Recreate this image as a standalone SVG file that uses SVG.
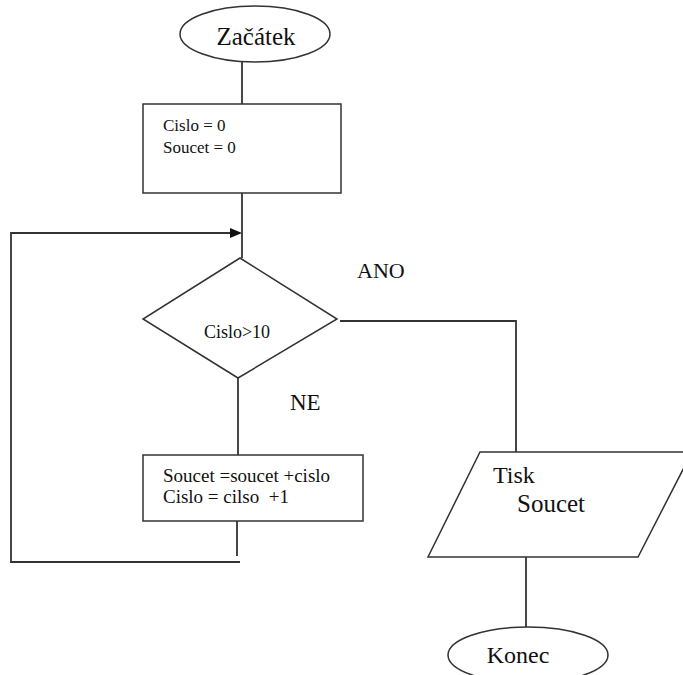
<svg xmlns="http://www.w3.org/2000/svg" width="683" height="675" viewBox="0 0 683 675">
<style>
.s{fill:#fff;stroke:#333;stroke-width:1.5}
.l{fill:none;stroke:#333;stroke-width:1.8}
.t{font-family:'Liberation Serif','DejaVu Serif',serif;fill:#111}
</style>
<defs>
<marker id="ah" viewBox="0 0 10 10" refX="10" refY="5" markerWidth="6" markerHeight="6" markerUnits="userSpaceOnUse" orient="auto">
<path d="M0,0 L10,5 L0,10 z" fill="#111"/>
</marker>
</defs>
<rect width="683" height="675" fill="#fff"/>
<g id="connectors">
<line class="l" x1="242" y1="62" x2="242" y2="104"/>
<line class="l" x1="242" y1="193" x2="242" y2="258"/>
<polyline class="l" points="237,521 237,556"/>
<polyline class="l" points="240,562 11,562 11,233 230,233"/>
<path d="M230,228 L242,233 L230,238 z" fill="#111"/>
<line class="l" x1="238" y1="378" x2="238" y2="455"/>
<polyline class="l" points="340,321 516,321 516,452"/>
<line class="l" x1="526" y1="557" x2="526" y2="627"/>
<text class="t" font-family="Liberation Serif, serif" x="357" y="278" font-size="22">ANO</text>
<text class="t" font-family="Liberation Serif, serif" x="290" y="410" font-size="23">NE</text>
</g>
<g id="start">
<ellipse class="s" cx="255" cy="34" rx="75" ry="28"/>
<text class="t" font-family="Liberation Serif, serif" x="256" y="45" font-size="25" text-anchor="middle">Začátek</text>
</g>
<g id="init">
<rect class="s" x="143" y="104" width="198" height="89"/>
<text class="t" font-family="Liberation Serif, serif" x="163" y="131" font-size="17">Cislo = 0</text>
<text class="t" font-family="Liberation Serif, serif" x="163" y="153" font-size="17">Soucet = 0</text>
</g>
<g id="decision">
<polygon class="s" points="240,258 337,319 238,378 143,319"/>
<text class="t" font-family="Liberation Serif, serif" x="237" y="338" font-size="18" text-anchor="middle">Cislo&gt;10</text>
</g>
<g id="update">
<rect class="s" x="143" y="455" width="220" height="66"/>
<text class="t" font-family="Liberation Serif, serif" x="163" y="482" font-size="19">Soucet =soucet +cislo</text>
<text class="t" font-family="Liberation Serif, serif" x="163" y="503" font-size="19" xml:space="preserve">Cislo = cilso  +1</text>
</g>
<g id="print">
<polygon class="s" points="480,452 692,452 638,557 428,557"/>
<text class="t" font-family="Liberation Serif, serif" x="493" y="483" font-size="24">Tisk</text>
<text class="t" font-family="Liberation Serif, serif" x="517" y="512" font-size="25">Soucet</text>
</g>
<g id="end">
<ellipse class="s" cx="528" cy="655" rx="80" ry="28"/>
<text class="t" font-family="Liberation Serif, serif" x="518" y="663" font-size="24" text-anchor="middle">Konec</text>
</g>
</svg>
